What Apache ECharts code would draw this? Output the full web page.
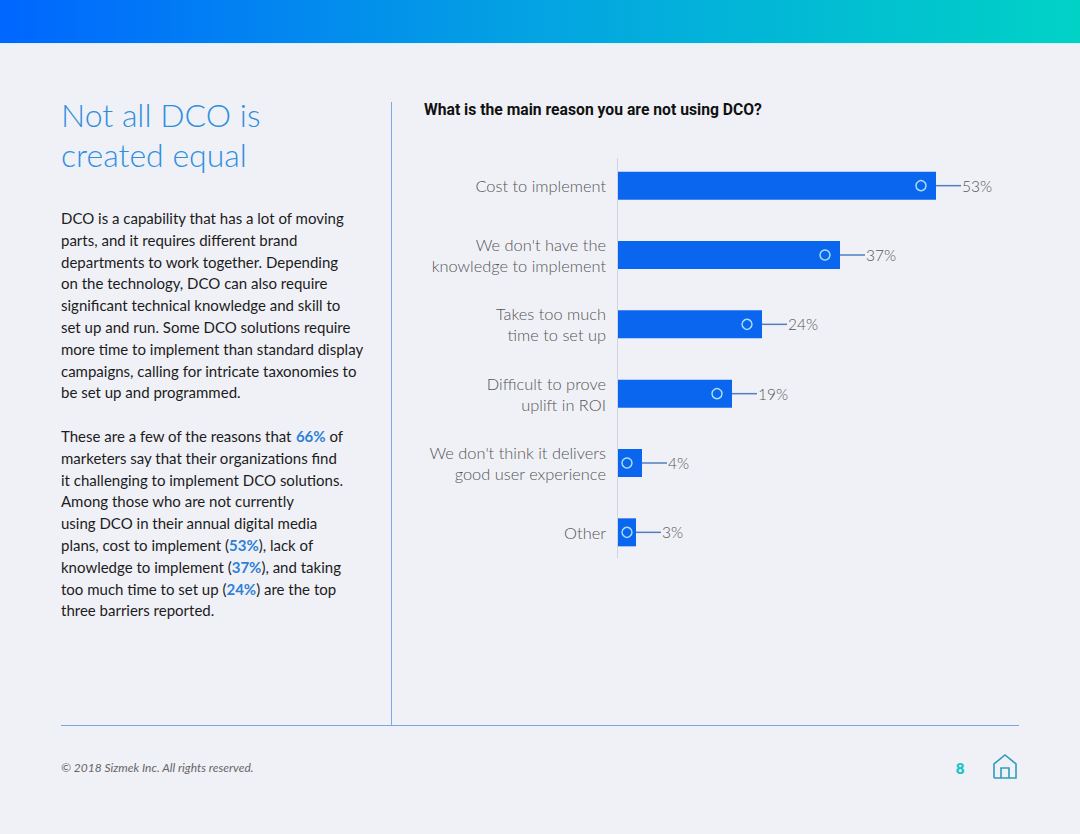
<!DOCTYPE html>
<html>
<head>
<meta charset="utf-8">
<style>
  html, body { margin: 0; padding: 0; background: #f0f1f7; }
  #chart { width: 1080px; height: 834px; }
</style>
</head>
<body>
<div id="chart"></div>
<script src="https://cdn.jsdelivr.net/npm/echarts@6/dist/echarts.min.js"></script>
<script>
const categories = [
  'Cost to implement',
  "We don't have the\nknowledge to implement",
  'Takes too much\ntime to set up',
  'Difficult to prove\nuplift in ROI',
  "We don't think it delivers\ngood user experience",
  'Other'
]
const percents = [53, 37, 24, 19, 4, 3]

const chartTitle = 'What is the main reason you are not using DCO?'
const headingLines = ['Not all DCO is', 'created equal']
// {b|..} marks the blue bold figures in the copy
const bodyLines = [
  'DCO is a capability that has a lot of moving',
  'parts, and it requires different brand',
  'departments to work together. Depending',
  'on the technology, DCO can also require',
  'significant technical knowledge and skill to',
  'set up and run. Some DCO solutions require',
  'more time to implement than standard display',
  'campaigns, calling for intricate taxonomies to',
  'be set up and programmed.',
  '',
  'These are a few of the reasons that {b|66%} of',
  'marketers say that their organizations find',
  'it challenging to implement DCO solutions.',
  'Among those who are not currently',
  'using DCO in their annual digital media',
  'plans, cost to implement ({b|53%}), lack of',
  'knowledge to implement ({b|37%}), and taking',
  'too much time to set up ({b|24%}) are the top',
  'three barriers reported.'
]
const footerText = '© 2018 Sizmek Inc. All rights reserved.'
const pageNumber = '8'

const BLUE = '#0a66ee'
const RULE = '#7aa8e0'
const LABEL_FONT = 'Lato'

const graphics = [
  {
    type: 'rect',
    shape: { x: 0, y: 0, width: 1080, height: 43 },
    style: {
      fill: new echarts.graphic.LinearGradient(0, 0, 1, 0, [
        { offset: 0, color: '#0066ff' },
        { offset: 0.5, color: '#04a4e2' },
        { offset: 1, color: '#00d2c6' }
      ])
    }
  },
  { type: 'rect', shape: { x: 0, y: 43, width: 1080, height: 1 }, style: { fill: '#d3f3fb' } },
  { type: 'rect', shape: { x: 391, y: 102, width: 1, height: 623 }, style: { fill: RULE } },
  { type: 'rect', shape: { x: 61, y: 725, width: 958, height: 1 }, style: { fill: RULE } },
  // axis line is shorter than the band area so it is drawn on its own
  { type: 'rect', shape: { x: 617, y: 158, width: 1, height: 400 }, style: { fill: '#cfd6e2' } },
  {
    type: 'text', x: 424, y: 109,
    style: { text: chartTitle, fill: '#111', font: '700 15.7px Roboto', verticalAlign: 'middle' }
  },
  {
    type: 'text', x: 61, y: 767,
    style: { text: footerText, fill: '#666', font: 'italic 12px Lato', verticalAlign: 'middle', letterSpacing: 0.5 }
  },
  {
    type: 'text', x: 960, y: 768,
    style: { text: pageNumber, fill: '#1cc4c8', font: '800 15px Lato', verticalAlign: 'middle', align: 'center' }
  },
  // home icon
  {
    type: 'polyline',
    shape: { points: [[994, 778], [994, 764], [1005, 755], [1016, 764], [1016, 778], [994, 778]] },
    style: { stroke: '#2f9db8', fill: 'none', lineWidth: 1.6 }
  },
  {
    type: 'polyline',
    shape: { points: [[1001, 778], [1001, 768], [1009, 768], [1009, 778]] },
    style: { stroke: '#2f9db8', fill: 'none', lineWidth: 1.6 }
  }
]

headingLines.forEach((line, i) => {
  graphics.push({
    type: 'text', x: 61, y: 114 + i * 40,
    style: {
      text: line, fill: '#2f8fdf', font: '300 32px Lato', verticalAlign: 'middle', letterSpacing: 1.8
    }
  })
})

bodyLines.forEach((line, i) => {
  if (!line) return
  graphics.push({
    type: 'text', x: 61, y: 218 + i * 21.8,
    style: {
      text: line,
      fill: '#1c1c1c',
      font: '15px Lato',
      verticalAlign: 'middle',
      rich: {
        b: { fill: '#2f7fd6', font: '700 15px Lato' }
      }
    }
  })
})

const chart = echarts.init(document.getElementById('chart'), null, { renderer: 'svg' })

chart.setOption({
  backgroundColor: '#f0f1f7',
  animation: false,
  graphic: graphics,
  grid: { left: 618, top: 151, width: 420, height: 416 },
  xAxis: { type: 'value', min: 0, max: 70, show: false },
  yAxis: {
    type: 'category',
    inverse: true,
    data: categories,
    axisLine: { show: false },
    axisTick: { show: false },
    axisLabel: {
      margin: 12,
      color: '#555',
      fontFamily: LABEL_FONT,
      fontWeight: 300,
      fontSize: 16.4,
      lineHeight: 21
    }
  },
  series: [
    {
      type: 'bar',
      data: percents,
      barWidth: 28,
      z: 2,
      itemStyle: { color: BLUE }
    },
    {
      // leader line, ring and value label sit at the end of each bar
      type: 'custom',
      z: 5,
      data: percents.map((v, i) => [v, i]),
      encode: { x: 0, y: 1 },
      renderItem(params, api) {
        const end = api.coord([api.value(0), api.value(1)])
        const start = api.coord([0, api.value(1)])
        const ringX = Math.max(end[0] - 15, start[0] + 9)
        return {
          type: 'group',
          children: [
            {
              type: 'line',
              shape: { x1: end[0], y1: end[1], x2: end[0] + 25, y2: end[1] },
              style: { stroke: '#4f7fc0', fill: 'none', lineWidth: 1.5 }
            },
            {
              type: 'circle',
              shape: { cx: ringX, cy: end[1], r: 5 },
              style: { stroke: '#a8ddf5', fill: 'none', lineWidth: 1.5 }
            },
            {
              type: 'text',
              x: end[0] + 26,
              y: end[1],
              style: {
                text: api.value(0) + '%',
                fill: '#555',
                font: '300 15.5px ' + LABEL_FONT,
                verticalAlign: 'middle'
              }
            }
          ]
        }
      }
    }
  ]
})
</script>
</body>
</html>
